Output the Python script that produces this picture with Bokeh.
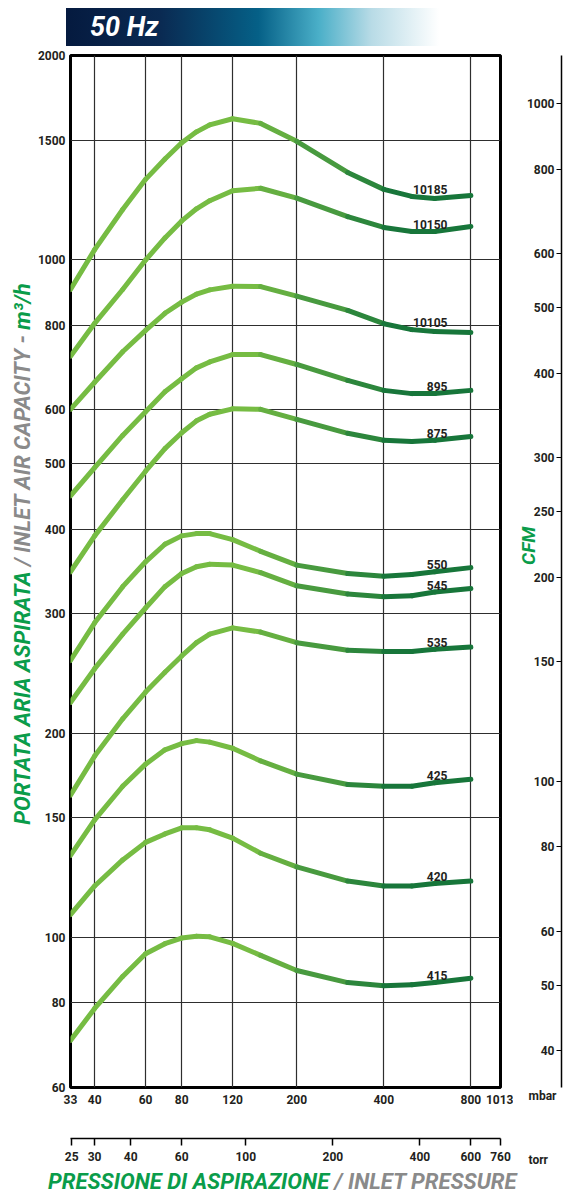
import math
from bokeh.plotting import figure
from bokeh.models import (Range1d, LogAxis, LogScale, FixedTicker, PrintfTickFormatter,
                          Title, Div, ColumnDataSource)
from bokeh.layouts import row, column
from bokeh.embed import file_html
from bokeh.resources import INLINE
from bokeh.core.properties import value

# ---------------- data ----------------
PRESSURE_MIN, PRESSURE_MAX = 33, 1013          # mbar
FLOW_MIN, FLOW_MAX = 60, 2000                  # m3/h
CFM_PER_M3H = 0.5886
MBAR_PER_TORR = 1.3328

mbar_ticks = [33, 40, 60, 80, 120, 200, 400, 800, 1013]
torr_ticks = [25, 30, 40, 60, 100, 200, 400, 600, 760]
flow_ticks = [60, 80, 100, 150, 200, 300, 400, 500, 600, 800, 1000, 1500, 2000]
cfm_ticks = [40, 50, 60, 80, 100, 150, 200, 250, 300, 400, 500, 600, 800, 1000]

pressure_mbar = [33, 40, 50, 60, 70, 80, 90, 100, 120, 150, 200, 300, 400, 500, 600, 800]
models = ["10185", "10150", "10105", "895", "875", "550", "545", "535", "425", "420", "415"]
flow_10185 = [903, 1034, 1185, 1313, 1407, 1487, 1543, 1580, 1613, 1588, 1494, 1344, 1269, 1239, 1230, 1243]
flow_10150 = [720, 805, 903, 998, 1076, 1140, 1188, 1221, 1263, 1274, 1232, 1157, 1115, 1100, 1100, 1119]
flow_10105 = [601, 659, 731, 786, 833, 865, 889, 902, 913, 912, 883, 841, 804, 788, 783, 780]
flow_895 = [448, 493, 550, 596, 638, 667, 692, 706, 724, 724, 700, 663, 641, 634, 634, 641]
flow_875 = [346, 391, 442, 487, 526, 555, 578, 591, 602, 601, 581, 554, 541, 539, 541, 548]
flow_550 = [256, 291, 329, 358, 380, 391, 394, 394, 386, 371, 354, 344, 341, 343, 346, 351]
flow_545 = [222, 249, 280, 306, 329, 344, 352, 355, 354, 345, 330, 321, 318, 319, 323, 327]
flow_535 = [162, 185, 210, 230, 246, 260, 272, 280, 286, 282, 272, 265, 264, 264, 266, 268]
flow_425 = [132, 149, 167, 180, 189, 193, 195, 194, 190, 182, 174, 168, 167, 167, 169, 171]
flow_420 = [108, 119, 130, 138, 142, 145, 145, 144, 140, 133, 127, 121, 119, 119, 120, 121]
flow_415 = [70.4, 78.5, 87.5, 94.5, 97.8, 99.7, 100.3, 100.1, 97.9, 94.0, 89.3, 85.7, 84.8, 85.1, 85.7, 87.0]
series = [flow_10185, flow_10150, flow_10105, flow_895, flow_875, flow_550,
          flow_545, flow_535, flow_425, flow_420, flow_415]

# ---------------- style ----------------
FONT = "Roboto"
TXT = "#231f20"
GREEN_TXT = "#0a9c4a"
GREY_TXT = "#8a8a8a"
LIGHT = (118, 188, 67)
DARK = (23, 118, 58)


def mix(t):
    c = [round(a + (b - a) * t) for a, b in zip(LIGHT, DARK)]
    return "#%02x%02x%02x" % tuple(c)


def style_labels(ax, size="12px"):
    ax.major_label_text_font = FONT
    ax.major_label_text_font_style = "bold"
    ax.major_label_text_font_size = size
    ax.major_label_text_color = TXT


def no_ticks(ax):
    ax.major_tick_in = 0
    ax.minor_tick_out = 0
    ax.minor_tick_in = 0


# ---------------- main chart ----------------
p = figure(frame_width=430, frame_height=1032, x_axis_type="log", y_axis_type="log",
           x_range=Range1d(PRESSURE_MIN, PRESSURE_MAX), y_range=Range1d(FLOW_MIN, FLOW_MAX),
           output_backend="svg", toolbar_location=None,
           min_border_left=34, min_border_right=13, min_border_top=9, min_border_bottom=83,
           outline_line_color="black", outline_line_width=3, background_fill_color="white",
           border_fill_color="white")
p.extra_x_ranges = {"torr": Range1d(PRESSURE_MIN / MBAR_PER_TORR, PRESSURE_MAX / MBAR_PER_TORR)}
p.extra_x_scales = {"torr": LogScale()}

xa = p.xaxis[0]
xa.ticker = FixedTicker(ticks=mbar_ticks)
xa.formatter = PrintfTickFormatter(format="%d")
no_ticks(xa)
xa.major_tick_out = 0
xa.axis_line_color = None
xa.major_label_standoff = 7
style_labels(xa)
xa.axis_label = "\u00a0"
xa.axis_label_text_font_size = "16px"
xa.axis_label_standoff = 12

ta = LogAxis(x_range_name="torr", ticker=FixedTicker(ticks=torr_ticks),
             formatter=PrintfTickFormatter(format="%d"))
no_ticks(ta)
ta.major_tick_out = 7
ta.axis_line_width = 1.5
ta.major_tick_line_width = 1.5
ta.major_label_standoff = 6
style_labels(ta)
p.add_layout(ta, "below")

ya = p.yaxis[0]
ya.ticker = FixedTicker(ticks=flow_ticks)
ya.formatter = PrintfTickFormatter(format="%d")
no_ticks(ya)
ya.major_tick_out = 0
ya.axis_line_color = None
ya.major_label_standoff = 5
style_labels(ya)

p.xgrid.ticker = FixedTicker(ticks=mbar_ticks[1:-1])
p.ygrid.ticker = FixedTicker(ticks=flow_ticks[1:-1])
for g in (p.xgrid, p.ygrid):
    g.grid_line_color = "#2e2e2e"
    g.grid_line_width = 1.2
    g.grid_line_alpha = 1.0

lo, hi = math.log10(140), math.log10(450)
xs, ys, cols = [], [], []
for flows in series:
    for i in range(len(pressure_mbar) - 1):
        xs.append([pressure_mbar[i], pressure_mbar[i + 1]])
        ys.append([flows[i], flows[i + 1]])
        xm = math.log10(math.sqrt(pressure_mbar[i] * pressure_mbar[i + 1]))
        t = min(1.0, max(0.0, (xm - lo) / (hi - lo)))
        cols.append(mix(t))
p.multi_line(xs=xs, ys=ys, line_color=cols, line_width=5, line_cap="round", line_join="round")

i500 = pressure_mbar.index(500)
i600 = pressure_mbar.index(600)
lab_src = ColumnDataSource(dict(x=[pressure_mbar[-1] * 0.83] * len(models),
                                y=[max(s[i500], s[i600]) for s in series], text=models))
p.text(x="x", y="y", text="text", source=lab_src, text_align="right",
       text_baseline="alphabetic", y_offset=-7, text_font=value(FONT),
       text_font_style="bold", text_font_size="12px", text_color=TXT)

# ---------------- CFM axis ----------------
c = figure(frame_width=6, frame_height=1032, y_axis_type="log", x_range=Range1d(0, 1),
           y_range=Range1d(FLOW_MIN * CFM_PER_M3H, FLOW_MAX * CFM_PER_M3H),
           x_axis_location=None, output_backend="svg", toolbar_location=None,
           min_border_left=46, min_border_right=8, min_border_top=9, min_border_bottom=83,
           outline_line_color=None, border_fill_color="white", background_fill_color="white")
c.grid.visible = False
ca = c.yaxis[0]
ca.ticker = FixedTicker(ticks=cfm_ticks)
ca.formatter = PrintfTickFormatter(format="%d")
no_ticks(ca)
ca.major_tick_out = 5
ca.axis_line_width = 1.5
ca.major_tick_line_width = 1.2
ca.major_label_standoff = 2
style_labels(ca)
ca.axis_label = "\u00a0" * 11 + "CFM"
ca.axis_label_text_font = FONT
ca.axis_label_text_font_style = "bold italic"
ca.axis_label_text_font_size = "19px"
ca.axis_label_text_color = GREEN_TXT
ca.axis_label_standoff = -16

c.add_layout(Title(text="mbar\n\n\n\ntorr", align="left", offset=-33, standoff=2,
                   vertical_align="top", text_font=FONT, text_font_style="bold",
                   text_font_size="12px", text_color=TXT, text_line_height=1.15),
             "below")

# ---------------- texts (HTML) ----------------
header = Div(width=571, height=46, margin=0, text=(
    "<div style=\"padding:8px 0 0 66px\">"
    "<div style=\"width:377px;height:38px;box-sizing:border-box;"
    "padding-left:24px;background:linear-gradient(90deg,#051a3f 0%,#0a2a52 25%,#056087 51%,"
    "#4aafc8 67%,#b8dbe6 81%,#ffffff 99%);color:white;font:italic bold 27px 'Roboto';"
    "line-height:38px;white-space:nowrap\">50 Hz</div></div>"))

ytitle = Div(width=34, height=1124, margin=0, text=(
    "<div style=\"position:relative;width:34px;height:1124px\">"
    "<div style=\"position:absolute;left:12px;top:508px;transform:translateY(-50%) rotate(180deg);"
    "writing-mode:vertical-rl;white-space:nowrap;font:italic bold 22px 'Roboto';line-height:22px\">"
    "<span style=\"color:" + GREEN_TXT + "\">PORTATA ARIA ASPIRATA</span>"
    "<span style=\"color:" + GREY_TXT + "\"> / INLET AIR CAPACITY - </span>"
    "<span style=\"color:" + GREEN_TXT + "\">m\u00b3/h</span></div></div>"))

bottom = Div(width=571, height=24, margin=0, text=(
    "<div style=\"margin-left:48px;white-space:nowrap;font:italic bold 22px 'Roboto';line-height:24px\">"
    "<span style=\"color:" + GREEN_TXT + "\">PRESSIONE DI ASPIRAZIONE</span>"
    "<span style=\"color:" + GREY_TXT + "\"> / INLET PRESSURE</span></div>"))

layout = column(header, row(ytitle, p, c, spacing=0), bottom, spacing=0)

open("out.html", "w").write(file_html(layout, INLINE))
